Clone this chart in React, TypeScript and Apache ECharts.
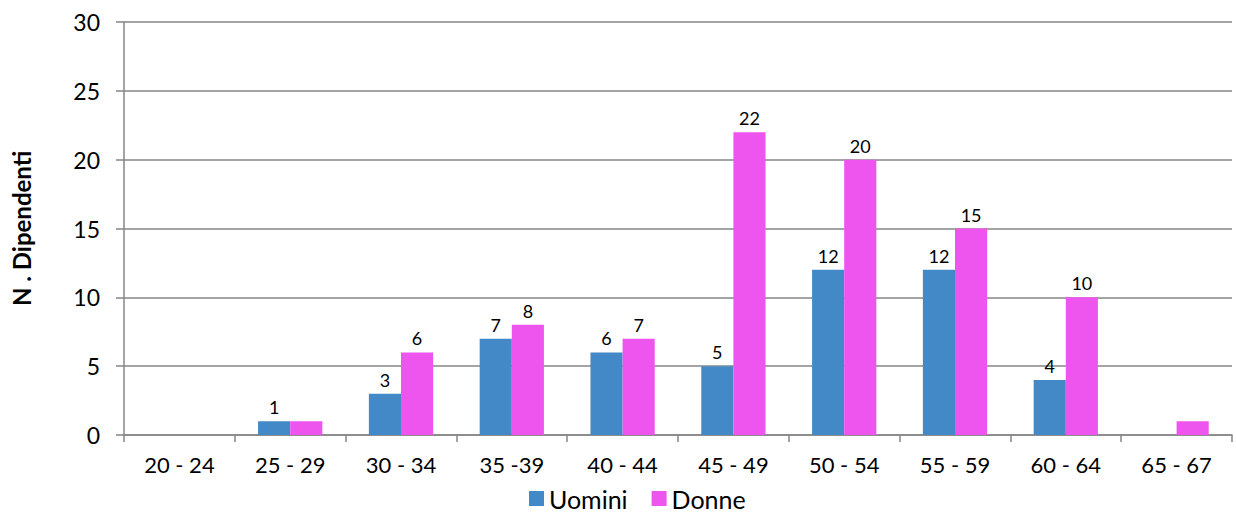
import React, { useEffect, useRef } from "react";
import * as echarts from "echarts";

const categories = ["20 - 24", "25 - 29", "30 - 34", "35 -39", "40 - 44", "45 - 49", "50 - 54", "55 - 59", "60 - 64", "65 - 67"];
const uomini = [0, 1, 3, 7, 6, 5, 12, 12, 4, 0];
const donne = [0, 1, 6, 8, 7, 22, 20, 15, 10, 1];
const uominiLabelShown = [false, true, true, true, true, true, true, true, true, false];
const donneLabelShown = [false, false, true, true, true, true, true, true, true, false];
const yTicks = [0, 5, 10, 15, 20, 25, 30];

const FONT = "Lato, 'Open Sans', sans-serif";

export default function App() {
  const ref = useRef<HTMLDivElement>(null);
  useEffect(() => {
    document.body.style.margin = "0";
    if (!ref.current) return;
    const chart = echarts.init(ref.current, undefined, { renderer: "svg" });
    const mk = (vals: number[], shown: boolean[]) =>
      vals.map((v, i) => ({ value: v, label: { show: shown[i] } }));
    chart.setOption({
      animation: false,
      textStyle: { fontFamily: FONT },
      grid: { left: 124, right: 4, top: 22, bottom: 82, containLabel: false, outerBoundsMode: "none" },
      legend: {
        bottom: 1,
        left: 524,
        itemWidth: 15,
        itemHeight: 15,
        itemGap: 24,
        icon: "rect",
        textStyle: { fontSize: 25, color: "#000", fontFamily: FONT },
        data: ["Uomini", "Donne"],
      },
      xAxis: {
        type: "category",
        data: categories,
        axisLine: { lineStyle: { color: "#868686", width: 1.5 } },
        axisTick: { show: true, length: 7, alignWithLabel: false, lineStyle: { color: "#868686", width: 1.5 } },
        axisLabel: { fontSize: 22, color: "#000", margin: 18, fontFamily: FONT },
      },
      yAxis: {
        type: "value",
        min: yTicks[0],
        max: yTicks[yTicks.length - 1],
        interval: 5,
        name: "N . Dipendenti",
        nameLocation: "middle",
        nameGap: 91,
        nameTextStyle: { fontSize: 24, fontWeight: "bold", color: "#000", fontFamily: FONT },
        axisLine: { show: true, lineStyle: { color: "#868686", width: 1.5 } },
        axisTick: { show: true, length: 8, lineStyle: { color: "#868686", width: 1.5 } },
        axisLabel: { fontSize: 23, color: "#000", margin: 24, fontFamily: FONT },
        splitLine: { lineStyle: { color: "#868686", width: 1.5 } },
      },
      series: [
        {
          name: "Uomini",
          type: "bar",
          data: mk(uomini, uominiLabelShown),
          barGap: "0%",
          barCategoryGap: "42%",
          itemStyle: { color: "#4388C7" },
          label: { show: true, position: "top", fontSize: 18, color: "#000", distance: 5, fontFamily: FONT },
        },
        {
          name: "Donne",
          type: "bar",
          data: mk(donne, donneLabelShown),
          barGap: "0%",
          barCategoryGap: "42%",
          itemStyle: { color: "#EE55EE" },
          label: { show: true, position: "top", fontSize: 18, color: "#000", distance: 5, fontFamily: FONT },
        },
      ],
    });
    return () => chart.dispose();
  }, []);
  return <div ref={ref} style={{ width: 1236, height: 517 }} />;
}
